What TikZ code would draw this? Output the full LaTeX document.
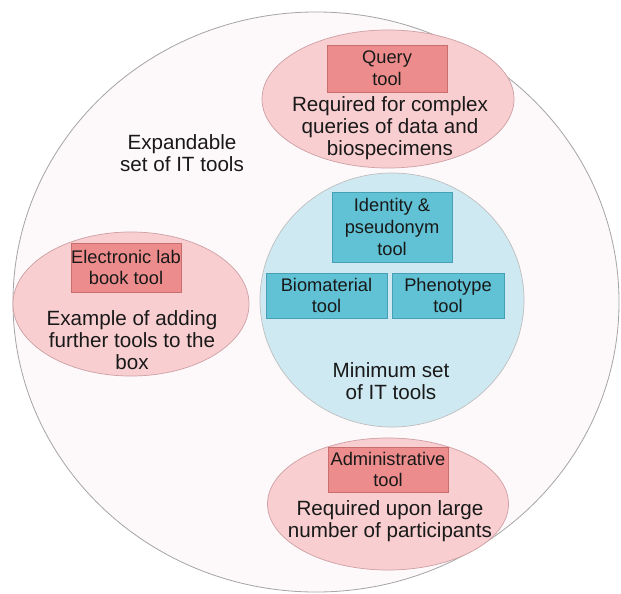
\documentclass[tikz,border=0pt]{standalone}
\usepackage{fontspec}
\setmainfont{Liberation Sans}
\usetikzlibrary{shapes.geometric}

\definecolor{shellfill}{RGB}{253,248,250}
\definecolor{optfill}{RGB}{248,206,208}
\definecolor{optline}{RGB}{205,160,165}
\definecolor{optbox}{RGB}{237,140,140}
\definecolor{optboxline}{RGB}{200,110,110}
\definecolor{corefill}{RGB}{206,233,242}
\definecolor{corebox}{RGB}{96,194,212}
\definecolor{coreboxline}{RGB}{70,160,180}

\begin{document}
\begin{tikzpicture}[
  x=0.03cm, y=-0.03cm,
  shell/.style={
    ellipse, draw=gray!70, line width=0.7pt, fill=shellfill,
    inner sep=0pt
  },
  option/.style={
    ellipse, draw=optline, line width=0.6pt, fill=optfill,
    inner sep=0pt
  },
  core/.style={
    ellipse, draw=gray!50, line width=0.6pt, fill=corefill,
    inner sep=0pt
  },
  optbox/.style={
    rectangle, draw=optboxline, line width=0.6pt, fill=optbox,
    align=center, inner sep=0pt, text=black!90,
    font=\fontsize{15.6}{18.5}\selectfont
  },
  corebox/.style={
    rectangle, draw=coreboxline, line width=0.6pt, fill=corebox,
    align=center, inner sep=0pt, text=black!90,
    font=\fontsize{15.6}{18.5}\selectfont
  },
  note/.style={
    align=center, inner sep=0pt, text=black!90,
    font=\fontsize{17.6}{18.5}\selectfont
  }
]
\useasboundingbox (0,0) rectangle (621,594);

% ================= Outer shell =================
\node[shell, minimum width=18.18cm, minimum height=17.4cm] (Shell) at (316,302) {};
\node[note] (ShellText) at (182,153) {Expandable\\set of IT tools};

% ================= Optional tools =================
\node[option, minimum width=7.56cm, minimum height=4.14cm] (Query) at (388,99) {};
\node[option, minimum width=7.08cm, minimum height=4.32cm] (ElnTool) at (131,304) {};
\node[option, minimum width=7.23cm, minimum height=3.96cm] (Admin) at (388,504) {};

\node[optbox, minimum width=3.6cm, minimum height=1.41cm] (QueryBox) at (387,68.5) {Query\\tool};
\node[optbox, minimum width=3.06cm, minimum height=1.47cm] (ElnBox) at (126,267.5) {Electronic lab\\book tool};
\node[optbox, minimum width=3.6cm, minimum height=1.35cm] (AdminBox) at (388,469.5) {Administrative\\tool};

\node[note] (QueryText) at (390,128) {Required for complex\\queries of data and\\biospecimens};
\node[note] (ElnText) at (132,340) {Example of adding\\further tools to the\\box};
\node[note] (AdminText) at (390,521) {Required upon large\\number of participants};

% ================= Minimum set =================
\node[core, minimum width=7.92cm, minimum height=7.62cm] (Core) at (392,300) {};

\node[corebox, minimum width=3.6cm, minimum height=2.1cm] (Identity) at (392,227) {Identity \&\\pseudonym\\tool};
\node[corebox, minimum width=3.63cm, minimum height=1.35cm] (Biomaterial) at (326.5,295.5) {Biomaterial\\tool};
\node[corebox, minimum width=3.36cm, minimum height=1.35cm] (Phenotype) at (448,295.5) {Phenotype\\tool};

\node[note] (CoreText) at (391,381) {Minimum set\\of IT tools};

\end{tikzpicture}
\end{document}
